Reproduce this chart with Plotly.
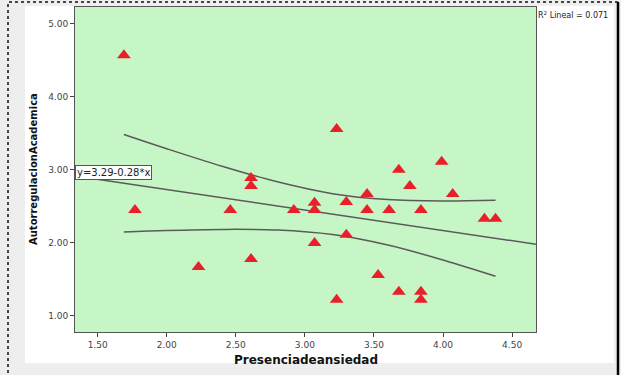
import plotly.graph_objects as go

# Data
x_vals = [1.69, 1.77, 2.23, 2.46, 2.61, 2.61, 2.61, 2.92, 3.07, 3.07, 3.07,
          3.23, 3.23, 3.30, 3.30, 3.45, 3.45, 3.53, 3.61, 3.68, 3.68, 3.76,
          3.84, 3.84, 3.84, 3.99, 4.07, 4.30, 4.38]
y_vals = [4.57, 2.45, 1.67, 2.45, 2.89, 2.78, 1.78, 2.45, 2.55, 2.45, 2.00,
          3.56, 1.22, 2.56, 2.11, 2.67, 2.45, 1.56, 2.45, 3.00, 1.33, 2.78,
          2.45, 1.33, 1.22, 3.11, 2.67, 2.33, 2.33]

intercept = 3.29
slope = -0.28
fit_x = [1.336, 4.673]

ci_x = [1.69, 2.0, 2.4, 2.8, 3.2, 3.6, 4.0, 4.38]
ci_upper = [3.485, 3.29, 3.05, 2.836, 2.674, 2.593, 2.574, 2.585]
ci_lower = [2.149, 2.17, 2.185, 2.176, 2.114, 1.971, 1.766, 1.543]

x_ticks = [1.5, 2.0, 2.5, 3.0, 3.5, 4.0, 4.5]
y_ticks = [1.0, 2.0, 3.0, 4.0, 5.0]

fit_y = [intercept + slope * v for v in fit_x]

fig = go.Figure()
line_style = dict(color="#5a5a5a", width=1.5)
fig.add_trace(go.Scatter(x=ci_x, y=ci_upper, mode="lines", line=dict(**line_style, shape="spline"), hoverinfo="skip"))
fig.add_trace(go.Scatter(x=ci_x, y=ci_lower, mode="lines", line=dict(**line_style, shape="spline"), hoverinfo="skip"))
fig.add_trace(go.Scatter(x=fit_x, y=fit_y, mode="lines", line=line_style, hoverinfo="skip"))
fig.add_trace(go.Scatter(x=x_vals, y=y_vals, mode="markers",
                         marker=dict(symbol="triangle-up", size=12, color="#e8202a",
                                     line=dict(width=0))))

L, R, T, B = 75, 85, 7, 43
PW, PH = 621 - L - R, 375 - T - B

def px(xp):
    return (xp - L) / PW

def py(yp):
    return (375 - B - yp) / PH

font_family = "DejaVu Sans, Verdana, sans-serif"
fig.update_layout(
    width=621, height=375,
    margin=dict(l=L, r=R, t=T, b=B),
    paper_bgcolor="#eeeeee",
    plot_bgcolor="#c6f6c6",
    showlegend=False,
    font=dict(family=font_family, size=9, color="#444444"),
    xaxis=dict(range=[1.336, 4.673], tickvals=x_ticks, tickformat=".2f",
               ticks="outside", ticklen=4, tickcolor="#444", showgrid=False, zeroline=False,
               showline=True, linecolor="#555", mirror=True, linewidth=1, automargin=False),
    yaxis=dict(range=[0.78, 5.23], tickvals=y_ticks, tickformat=".2f",
               ticks="outside", ticklen=4, tickcolor="#444", showgrid=False, zeroline=False,
               showline=True, linecolor="#555", mirror=True, linewidth=1, automargin=False),
    shapes=[
        dict(type="rect", xref="paper", yref="paper", layer="below",
             x0=px(25), x1=px(614), y0=py(363), y1=py(6),
             fillcolor="white", line=dict(width=0)),
        dict(type="rect", xref="paper", yref="paper", layer="below",
             x0=0, x1=1, y0=0, y1=1,
             fillcolor="#c6f6c6", line=dict(width=0)),
        dict(type="rect", xref="paper", yref="paper", layer="above",
             x0=px(8), x1=px(618), y0=py(376), y1=py(2),
             fillcolor="rgba(0,0,0,0)", line=dict(color="#111", width=1.5, dash="dot")),
        dict(type="line", xref="paper", yref="paper", layer="above",
             x0=px(618), x1=px(618), y0=py(376), y1=py(2),
             line=dict(color="#000", width=2.5)),
    ],
    annotations=[
        dict(text="<b>Presenciadeansiedad</b>", xref="paper", yref="paper",
             x=px(306), y=py(360), xanchor="center", yanchor="middle", showarrow=False,
             font=dict(size=12, color="#111")),
        dict(text="<b>AutorregulacionAcademica</b>", xref="paper", yref="paper",
             x=px(33), y=py(169), xanchor="center", yanchor="middle", showarrow=False,
             textangle=-90, font=dict(size=10, color="#111")),
        dict(text="R<sup>2</sup> Lineal = 0.071", xref="paper", yref="paper",
             x=px(536), y=py(8), xanchor="left", yanchor="top", showarrow=False,
             font=dict(size=8, color="#222")),
        dict(text="y=3.29-0.28*x", xref="paper", yref="y", x=0.0, y=2.96,
             xanchor="left", yanchor="middle", showarrow=False,
             bgcolor="white", bordercolor="#555", borderwidth=1, borderpad=1,
             font=dict(size=10, color="#222")),
    ],
)

fig.write_html("out.html", config={"displayModeBar": False},
               post_script="document.body.style.margin='0';document.body.style.padding='0';document.body.style.overflow='hidden';")
